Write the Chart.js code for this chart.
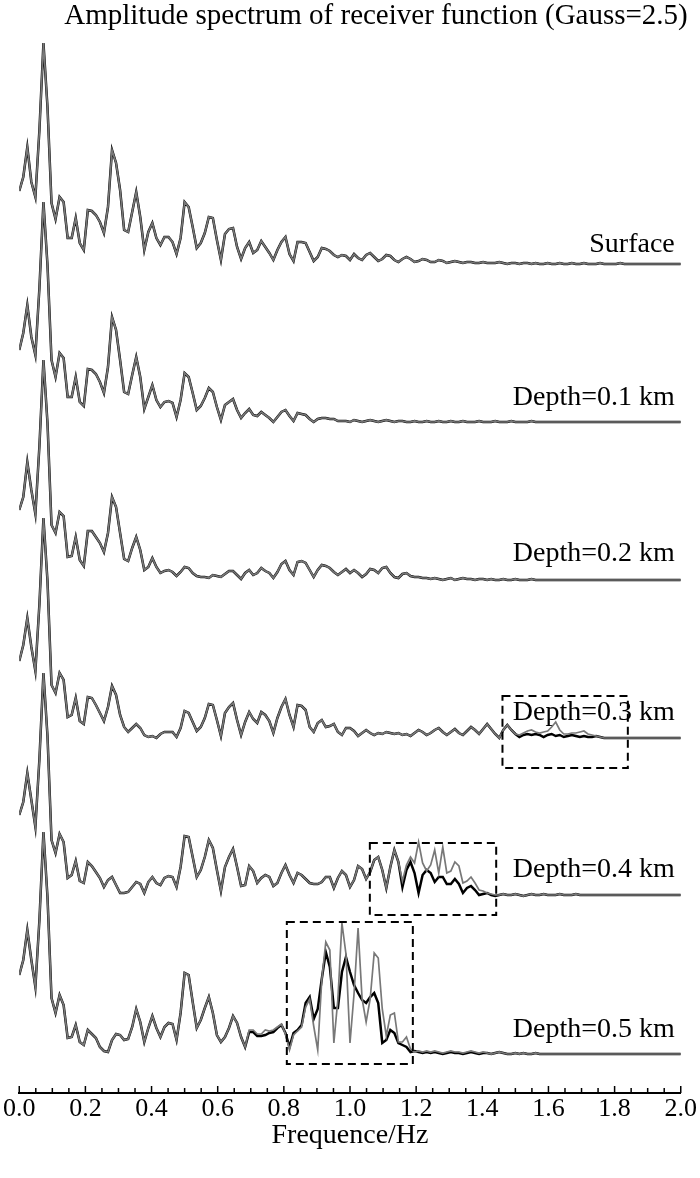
<!DOCTYPE html>
<html><head><meta charset="utf-8">
<script src="https://cdn.jsdelivr.net/npm/chart.js@4.4.0/dist/chart.umd.min.js"></script>
<style>html,body{margin:0;padding:0;background:#fff;}#wrap{width:700px;height:1178px;}</style>
</head><body><div id="wrap"><canvas id="c" width="700" height="1178"></canvas></div>
<script>
const CHART_TITLE = "Amplitude spectrum of receiver function (Gauss=2.5)";
const X_TITLE = "Frequence/Hz";
const FREQ_MAX = 2.0;
const N_SAMPLES = 165;
const xTickLabels = ["0.0","0.2","0.4","0.6","0.8","1.0","1.2","1.4","1.6","1.8","2.0"];
const traceNames = ["Surface","Depth=0.1 km","Depth=0.2 km","Depth=0.3 km","Depth=0.4 km","Depth=0.5 km"];

// amplitude spectra (black = one model, grey = the other), relative units
const ampSurface = [
0.73,0.87,1.17,0.82,0.67,1.34,2.21,1.57,0.61,0.45,
0.67,0.62,0.26,0.26,0.46,0.21,0.14,0.54,0.53,0.49,
0.42,0.31,0.57,1.14,1.01,0.74,0.34,0.32,0.52,0.72,
0.47,0.14,0.32,0.41,0.26,0.19,0.27,0.27,0.22,0.10,
0.26,0.62,0.57,0.37,0.16,0.21,0.31,0.47,0.46,0.24,
0.04,0.30,0.35,0.36,0.17,0.05,0.16,0.22,0.11,0.14,
0.23,0.17,0.11,0.04,0.14,0.22,0.27,0.10,0.03,0.22,
0.22,0.21,0.12,0.03,0.07,0.16,0.15,0.13,0.09,0.07,
0.09,0.08,0.04,0.10,0.06,0.04,0.09,0.11,0.07,0.03,
0.05,0.09,0.08,0.04,0.02,0.05,0.07,0.05,0.02,0.03,
0.05,0.04,0.02,0.02,0.04,0.03,0.01,0.02,0.03,0.02,
0.01,0.02,0.02,0.01,0.01,0.02,0.01,0.01,0.01,0.02,
0.01,0.00,0.01,0.01,0.00,0.01,0.01,0.00,0.01,0.00,
0.00,0.01,0.00,0.00,0.01,0.00,0.00,0.01,0.00,0.00,
0.01,0.00,0.00,0.00,0.01,0.00,0.00,0.00,0.00,0.01,
0.00,0.00,0.00,0.00,0.00,0.00,0.00,0.00,0.00,0.00,
0.00,0.00,0.00,0.00,0.00];
const ampD01 = [
0.72,0.89,1.17,0.85,0.67,1.34,2.20,1.57,0.62,0.45,
0.69,0.64,0.25,0.25,0.45,0.20,0.16,0.53,0.52,0.48,
0.40,0.29,0.55,1.05,0.92,0.62,0.30,0.28,0.47,0.65,
0.45,0.13,0.25,0.37,0.22,0.15,0.20,0.21,0.19,0.05,
0.22,0.49,0.45,0.29,0.12,0.16,0.24,0.34,0.30,0.15,
0.02,0.17,0.20,0.23,0.12,0.04,0.09,0.13,0.07,0.06,
0.10,0.07,0.04,0.00,0.05,0.10,0.12,0.06,0.01,0.09,
0.08,0.07,0.03,0.00,0.03,0.04,0.04,0.03,0.03,0.01,
0.01,0.01,0.00,0.02,0.01,0.00,0.01,0.02,0.01,0.00,
0.01,0.02,0.01,0.00,0.01,0.01,0.00,0.00,0.01,0.00,
0.00,0.01,0.00,0.00,0.01,0.00,0.00,0.01,0.00,0.00,
0.01,0.00,0.00,0.00,0.01,0.00,0.00,0.00,0.01,0.00,
0.00,0.00,0.01,0.00,0.00,0.00,0.00,0.01,0.00,0.00,
0.00,0.00,0.00,0.00,0.00,0.00,0.00,0.00,0.00,0.00,
0.00,0.00,0.00,0.00,0.00,0.00,0.00,0.00,0.00,0.00,
0.00,0.00,0.00,0.00,0.00,0.00,0.00,0.00,0.00,0.00,
0.00,0.00,0.00,0.00,0.00];
const ampD02 = [
0.70,0.83,1.18,0.90,0.66,1.34,2.20,1.57,0.55,0.47,
0.68,0.64,0.23,0.24,0.43,0.20,0.14,0.49,0.49,0.43,
0.37,0.28,0.47,0.83,0.73,0.47,0.21,0.19,0.32,0.43,
0.30,0.10,0.13,0.22,0.13,0.07,0.09,0.10,0.08,0.04,
0.08,0.13,0.12,0.07,0.04,0.03,0.03,0.02,0.05,0.04,
0.03,0.06,0.09,0.09,0.05,0.01,0.07,0.10,0.05,0.07,
0.12,0.09,0.07,0.02,0.08,0.16,0.19,0.10,0.05,0.18,
0.19,0.17,0.10,0.03,0.10,0.15,0.14,0.12,0.08,0.05,
0.08,0.11,0.07,0.10,0.07,0.03,0.06,0.11,0.10,0.07,
0.12,0.13,0.07,0.03,0.02,0.06,0.07,0.04,0.03,0.03,
0.02,0.02,0.01,0.02,0.01,0.00,0.01,0.02,0.00,0.01,
0.02,0.01,0.01,0.00,0.01,0.01,0.00,0.01,0.00,0.00,
0.01,0.00,0.00,0.01,0.00,0.00,0.00,0.01,0.00,0.00,
0.00,0.00,0.00,0.00,0.00,0.00,0.00,0.00,0.00,0.00,
0.00,0.00,0.00,0.00,0.00,0.00,0.00,0.00,0.00,0.00,
0.00,0.00,0.00,0.00,0.00,0.00,0.00,0.00,0.00,0.00,
0.00,0.00,0.00,0.00,0.00];
const ampD03 = [
0.77,0.93,1.20,0.91,0.67,1.34,2.20,1.57,0.53,0.45,
0.65,0.58,0.21,0.23,0.40,0.17,0.14,0.41,0.40,0.33,
0.25,0.17,0.31,0.52,0.43,0.23,0.11,0.06,0.10,0.14,
0.10,0.03,0.01,0.02,0.00,0.04,0.06,0.06,0.06,0.01,
0.10,0.27,0.25,0.16,0.07,0.11,0.20,0.34,0.33,0.18,
0.02,0.25,0.31,0.35,0.18,0.03,0.16,0.26,0.19,0.15,
0.26,0.23,0.17,0.05,0.20,0.31,0.39,0.23,0.11,0.33,
0.32,0.28,0.11,0.06,0.15,0.18,0.11,0.12,0.14,0.06,
0.03,0.10,0.10,0.07,0.02,0.05,0.08,0.05,0.03,0.05,
0.04,0.06,0.05,0.04,0.05,0.03,0.04,0.02,0.05,0.08,
0.06,0.03,0.05,0.08,0.10,0.06,0.03,0.06,0.09,0.05,
0.03,0.07,0.11,0.08,0.04,0.09,0.14,0.09,0.04,0.00,
0.08,0.13,0.08,0.04,0.01,0.03,0.04,0.03,0.04,0.03,
0.01,0.03,0.04,0.02,0.03,0.01,0.02,0.03,0.02,0.01,
0.02,0.01,0.01,0.02,0.01,0.00,0.00,0.00,0.00,0.00,
0.00,0.00,0.00,0.00,0.00,0.00,0.00,0.00,0.00,0.00,
0.00,0.00,0.00,0.00,0.00];
const greyD03Start = 124;
const greyD03 = [0.03,0.05,0.07,0.08,0.06,0.05,0.06,0.07,0.11,0.16,0.08,0.04,0.04,0.05,0.05,0.06,0.07,0.04,0.03,0.02,0.01,0.00];
const ampD04 = [
0.78,0.91,1.20,0.93,0.66,1.34,2.20,1.57,0.53,0.40,
0.59,0.51,0.15,0.18,0.32,0.12,0.10,0.31,0.27,0.21,
0.15,0.06,0.13,0.16,0.08,0.00,0.00,0.01,0.06,0.11,
0.09,0.00,0.11,0.16,0.10,0.08,0.15,0.17,0.16,0.06,
0.26,0.57,0.56,0.36,0.16,0.23,0.36,0.53,0.45,0.23,
0.02,0.26,0.36,0.44,0.26,0.07,0.08,0.27,0.22,0.10,
0.15,0.18,0.16,0.07,0.10,0.20,0.28,0.18,0.10,0.20,
0.18,0.14,0.10,0.09,0.09,0.11,0.16,0.16,0.05,0.15,
0.22,0.18,0.06,0.13,0.27,0.24,0.14,0.21,0.33,0.36,
0.23,0.05,0.26,0.43,0.31,0.06,0.23,0.31,0.20,0.00,
0.18,0.23,0.20,0.11,0.16,0.16,0.09,0.09,0.14,0.09,
0.00,0.05,0.07,0.03,-0.02,-0.01,0.00,-0.02,-0.03,-0.02,
-0.01,-0.02,-0.02,-0.01,-0.02,-0.03,-0.02,-0.01,-0.02,-0.02,
-0.01,-0.02,-0.02,-0.02,-0.01,-0.02,-0.02,-0.02,-0.01,-0.02,
-0.02,-0.02,-0.02,-0.02,-0.02,-0.02,-0.02,-0.02,-0.02,-0.02,
-0.02,-0.02,-0.02,-0.02,-0.02,-0.02,-0.02,-0.02,-0.02,-0.02,
-0.02,-0.02,-0.02,-0.02,-0.02];
const greyD04Start = 94;
const greyD04 = [0.31,0.12,0.28,0.36,0.30,0.51,0.30,0.22,0.28,0.43,0.20,0.46,0.20,0.22,0.31,0.27,0.10,0.12,0.16,0.10,0.03,0.02,0.00,-0.01,-0.02];
const ampD05 = [
0.79,0.94,1.24,0.94,0.67,1.34,2.22,1.57,0.56,0.41,
0.59,0.49,0.16,0.17,0.29,0.12,0.09,0.24,0.20,0.16,
0.07,0.03,0.02,0.14,0.20,0.19,0.14,0.15,0.27,0.45,
0.32,0.12,0.26,0.38,0.26,0.17,0.27,0.31,0.30,0.14,
0.41,0.81,0.79,0.52,0.26,0.34,0.46,0.57,0.41,0.19,
0.12,0.17,0.26,0.38,0.31,0.17,0.07,0.22,0.22,0.18,
0.18,0.19,0.21,0.22,0.26,0.29,0.21,0.07,0.21,0.24,
0.29,0.51,0.57,0.35,0.45,0.75,1.02,0.87,0.46,0.46,
0.82,0.97,0.82,0.69,0.61,0.54,0.51,0.57,0.61,0.51,
0.11,0.14,0.24,0.21,0.11,0.09,0.07,0.02,0.03,0.02,
0.01,0.02,0.01,0.02,0.01,0.00,0.01,0.02,0.01,0.01,
0.00,0.01,0.02,0.01,0.00,0.01,0.01,0.00,0.01,0.02,
0.01,0.00,0.00,0.01,0.00,0.01,0.00,0.00,0.01,0.00,
0.00,0.00,0.00,0.00,0.00,0.00,0.00,0.00,0.00,0.00,
0.00,0.00,0.00,0.00,0.00,0.00,0.00,0.00,0.00,0.00,
0.00,0.00,0.00,0.00,0.00,0.00,0.00,0.00,0.00,0.00,
0.00,0.00,0.00,0.00,0.00];
const greyD05Start = 57;
const greyD05 = [0.24,0.24,0.20,0.20,0.24,0.23,0.24,0.27,0.30,0.20,0.04,0.19,0.23,0.27,0.47,0.55,0.28,0.04,0.74,1.12,1.04,0.11,0.55,1.31,1.00,0.11,0.60,1.26,0.55,0.32,0.55,1.01,0.96,0.45,0.18,0.39,0.41,0.12,0.12,0.17,0.05,0.02,
0.03,0.02,0.03,0.02,0.03,0.02,0.01,0.02,0.03,0.02,0.02,0.01,0.02,0.03,0.02,0.01,0.02];

// layout of the stacked traces (vertical offset of each trace's zero level)
const traceOffsets = [2.64, 4.22, 5.80, 7.38, 8.93, 10.54];
const labelLift = [0.19, 0.24, 0.26, 0.25, 0.23, 0.24];
const Y_RANGE = 10.93;
// dashed zoom boxes: trace index, frequency range, amplitude range
const zoomBoxes = [
  {trace:3, f0:1.461, f1:1.840, top:0.42, bottom:-0.30},
  {trace:4, f0:1.060, f1:1.442, top:0.50, bottom:-0.22},
  {trace:5, f0:0.809, f1:1.190, top:1.32, bottom:-0.10}
];

function patched(base, start, vals){ const o = base.slice(); vals.forEach((v,j)=>{ o[start+j] = v; }); return o; }
function toPoints(amp, off){ return amp.map((a,i)=>({x: i*FREQ_MAX/(N_SAMPLES-1), y: off - a})); }

const blackSeries = [ampSurface, ampD01, ampD02, ampD03, ampD04, ampD05];
const greySeries = [ampSurface, ampD01, ampD02,
  patched(ampD03, greyD03Start, greyD03),
  patched(ampD04, greyD04Start, greyD04),
  patched(ampD05, greyD05Start, greyD05)];

const datasets = [];
greySeries.forEach((s,k)=>datasets.push({data: toPoints(s, traceOffsets[k]), borderColor:'#787878', borderWidth:1.7, pointRadius:0, tension:0, order:0}));
blackSeries.forEach((s,k)=>datasets.push({data: toPoints(s, traceOffsets[k]), borderColor:'#000', borderWidth:2.5, pointRadius:0, tension:0, order:1}));

const FONT = '"Liberation Serif", "Times New Roman", serif';
const overlay = {
  id:'overlay',
  afterDatasetsDraw(chart){
    const {ctx, scales:{x, y}} = chart;
    ctx.save();
    ctx.fillStyle = '#000';
    ctx.font = '28px ' + FONT;
    ctx.textAlign = 'right'; ctx.textBaseline = 'middle';
    traceNames.forEach((n,k)=>ctx.fillText(n, x.getPixelForValue(FREQ_MAX) - 6, y.getPixelForValue(traceOffsets[k] - labelLift[k])));
    ctx.strokeStyle = '#000'; ctx.lineWidth = 2; ctx.setLineDash([8,5]);
    zoomBoxes.forEach(b=>{
      const off = traceOffsets[b.trace];
      const x0 = x.getPixelForValue(b.f0), x1 = x.getPixelForValue(b.f1);
      const y0 = y.getPixelForValue(off - b.top), y1 = y.getPixelForValue(off - b.bottom);
      ctx.strokeRect(x0, y0, x1 - x0, y1 - y0);
    });
    ctx.setLineDash([]);
    ctx.lineWidth = 1.5;
    const axisY = x.top;
    for (let i = 0; i <= 40; i++) {
      const px = x.getPixelForValue(i * 0.05);
      const len = (i % 4 === 0) ? 7 : 5;
      ctx.beginPath(); ctx.moveTo(px, axisY); ctx.lineTo(px, axisY - len); ctx.stroke();
    }
    ctx.font = '29px ' + FONT;
    ctx.textAlign = 'center';
    ctx.fillText(CHART_TITLE, 376, 16);
    ctx.restore();
  }
};

new Chart(document.getElementById('c'), {
  type:'line',
  data:{ datasets },
  options:{
    responsive:false, animation:false, devicePixelRatio:1,
    layout:{ padding:{ top:0, left:18, right:18, bottom:28 } },
    plugins:{ legend:{display:false}, tooltip:{enabled:false}, title:{display:false} },
    scales:{
      x:{ type:'linear', min:0, max:FREQ_MAX,
        grid:{ display:false, drawTicks:false },
        border:{ display:true, color:'#000', width:2 },
        ticks:{ stepSize:0.2, padding:3, color:'#000', autoSkip:false, maxRotation:0,
          font:{ family:FONT, size:26, lineHeight:1 },
          callback:(v, i)=>xTickLabels[i] },
        title:{ display:true, text:X_TITLE, color:'#000', font:{ family:FONT, size:28, lineHeight:1 }, padding:{ top:-3, bottom:0 } }
      },
      y:{ type:'linear', display:false, reverse:true, bounds:'data', min:0, max:Y_RANGE }
    }
  },
  plugins:[overlay]
});
</script></body></html>
